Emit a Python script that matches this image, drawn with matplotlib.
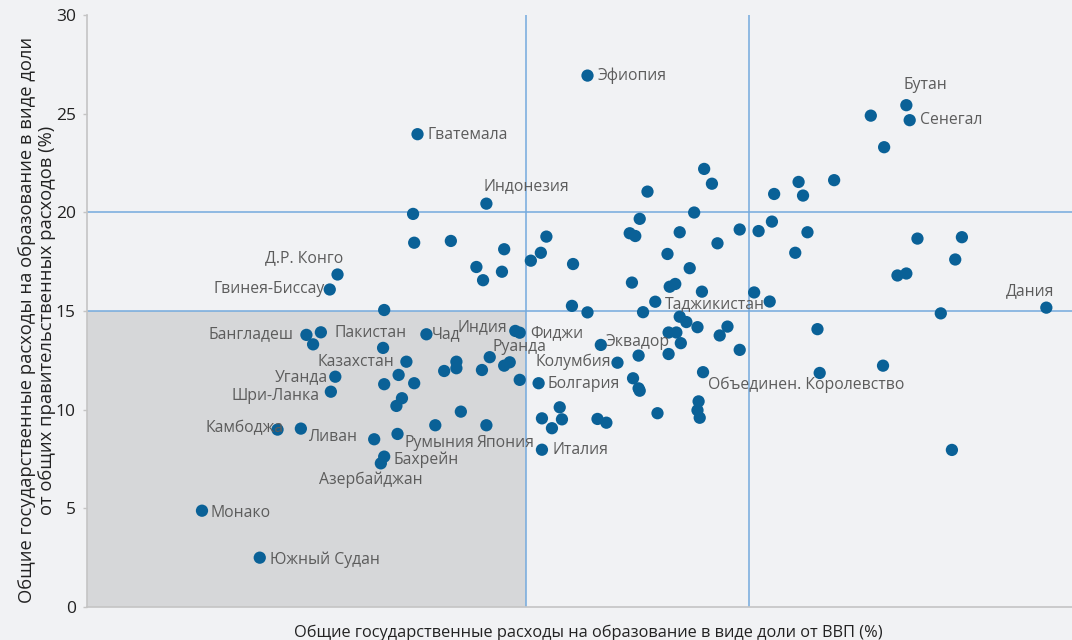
import matplotlib
matplotlib.use("Agg")
import matplotlib.pyplot as plt
from matplotlib.patches import Rectangle

#data: share of GDP (%) and share of government spending (%)
country = [
    'Эфиопия', 'Бутан', 'Сенегал', '', '', 'Гватемала', 'Индонезия', '', '', '',
    '', '', '', '', '', '', '', '', '', '',
    '', '', '', '', '', '', '', '', '', '',
    '', '', '', '', '', '', '', '', '', '',
    '', '', '', '', '', '', 'Д.Р. Конго', 'Гвинея-Биссау', '', '',
    '', 'Таджикистан', '', '', '', '', 'Дания', '', '', '',
    '', '', '', '', '', '', '', '', 'Эквадор', '',
    '', 'Колумбия', '', '', '', 'Объединен. Королевство', '', '', '', '',
    '', '', '', '', '', 'Бангладеш', 'Пакистан', '', 'Чад', 'Индия',
    'Фиджи', '', 'Казахстан', '', '', '', '', '', '', '',
    '', '', '', '', 'Руанда', '', 'Болгария', '', '', 'Япония',
    'Ливан', 'Румыния', 'Бахрейн', 'Азербайджан', 'Италия', '', '', '', '', 'Уганда',
    'Шри-Ланка', 'Камбоджа', '', 'Монако', 'Южный Судан',
]
gdp_share = [
    4.55, 7.42, 7.45, 7.10, 7.22, 3.02, 3.64, 5.60, 5.67, 5.09,
    6.45, 6.49, 6.77, 6.23, 5.51, 2.98, 5.02, 6.21, 4.93, 4.98,
    5.38, 5.92, 6.09, 6.53, 4.18, 2.99, 3.32, 3.80, 4.13, 4.04,
    4.42, 5.72, 5.27, 6.42, 7.52, 7.92, 7.86, 3.55, 3.78, 3.61,
    5.47, 4.95, 5.29, 5.34, 7.34, 7.42, 2.30, 2.23, 5.58, 6.05,
    6.19, 5.16, 4.41, 4.55, 5.05, 7.73, 8.68, 2.72, 5.38, 5.44,
    5.54, 5.28, 5.35, 5.81, 5.74, 5.39, 5.92, 6.62, 4.67, 5.01,
    5.28, 4.82, 4.96, 5.01, 5.02, 5.59, 5.55, 5.54, 5.56, 5.18,
    4.72, 4.64, 6.64, 7.21, 7.83, 2.02, 2.15, 2.08, 3.10, 3.90,
    3.94, 2.71, 2.92, 2.85, 2.72, 2.99, 2.88, 2.83, 3.26, 3.37,
    3.37, 3.60, 3.67, 3.80, 3.85, 3.94, 4.11, 3.41, 3.18, 3.64,
    2.63, 2.84, 2.72, 2.69, 4.14, 4.14, 4.30, 4.32, 4.23, 2.28,
    2.24, 1.76, 1.97, 1.08, 1.60,
]
budget_share = [
    26.93, 25.43, 24.67, 24.90, 23.30, 23.96, 20.44, 22.20, 21.45, 21.05,
    21.54, 20.85, 21.63, 20.93, 19.99, 19.92, 19.67, 19.53, 18.94, 18.80,
    18.99, 19.13, 19.05, 18.99, 18.77, 18.46, 18.55, 18.13, 17.95, 17.55,
    17.38, 18.43, 17.89, 17.95, 18.67, 18.74, 17.61, 17.23, 16.99, 16.56,
    17.17, 16.44, 16.23, 16.37, 16.80, 16.90, 16.85, 16.09, 15.98, 15.94,
    15.48, 15.47, 15.26, 14.93, 14.94, 14.88, 15.17, 15.05, 14.71, 14.44,
    14.18, 13.91, 13.91, 14.21, 13.76, 13.37, 13.03, 14.08, 13.28, 12.74,
    12.82, 12.38, 11.59, 11.08, 10.96, 11.90, 10.42, 9.97, 9.59, 9.82,
    9.34, 9.53, 11.86, 12.23, 7.96, 13.79, 13.92, 13.31, 13.82, 13.99,
    13.90, 13.13, 12.43, 11.76, 11.29, 11.34, 10.58, 10.19, 11.96, 12.43,
    12.10, 12.01, 12.66, 12.23, 12.40, 11.51, 11.34, 9.90, 9.21, 9.21,
    8.50, 8.77, 7.62, 7.28, 7.97, 9.56, 10.12, 9.51, 9.06, 11.67,
    10.91, 8.99, 9.04, 4.88, 2.50,
]

#reference lines
gdp_lines = [4, 6]
budget_lines = [15, 20]

#label offsets in pixels (dx, dy, ha)
label_pos = {
    'Эфиопия': (10, 0, 'left'),
    'Бутан': (-3, 20, 'left'),
    'Сенегал': (10, 0, 'left'),
    'Гватемала': (10, -1, 'left'),
    'Индонезия': (-3, 18, 'left'),
    'Д.Р. Конго': (6, 16, 'right'),
    'Гвинея-Биссау': (-5, 0, 'right'),
    'Дания': (8, 17, 'right'),
    'Таджикистан': (10, -2, 'left'),
    'Бангладеш': (-13, 1, 'right'),
    'Пакистан': (14, -1, 'left'),
    'Чад': (5, 0, 'left'),
    'Индия': (-8, 4, 'right'),
    'Фиджи': (11, 0, 'left'),
    'Руанда': (-17, 15, 'left'),
    'Казахстан': (-12, 0, 'right'),
    'Колумбия': (-6, 1, 'right'),
    'Эквадор': (5, 3, 'left'),
    'Уганда': (-7, 0, 'right'),
    'Шри-Ланка': (-11, -4, 'right'),
    'Болгария': (9, -1, 'left'),
    'Объединен. Королевство': (5, -13, 'left'),
    'Камбоджа': (6, 1, 'right'),
    'Ливан': (-16, 2, 'right'),
    'Румыния': (7, -9, 'left'),
    'Япония': (-10, -18, 'left'),
    'Бахрейн': (9, -3, 'left'),
    'Азербайджан': (-10, -16, 'center'),
    'Монако': (9, -2, 'left'),
    'Южный Судан': (10, -2, 'left'),
    'Италия': (11, 0, 'left'),
}

plt.rcParams['font.family'] = ['Open Sans', 'DejaVu Sans']

bg = '#f1f2f4'
dot = '#0a6197'
line_col = '#74aadd'

fig = plt.figure(figsize=(10.72, 6.4), dpi=100, facecolor=bg)
ax = fig.add_axes([87 / 1072, 33 / 640, 985 / 1072, 592 / 640])
ax.set_facecolor(bg)
ax.set_xlim(0.045, 8.911)
ax.set_ylim(0, 30)

#shaded low-low quadrant
ax.add_patch(Rectangle((0, 0), gdp_lines[0], budget_lines[0], facecolor='#d6d7d9',
                       edgecolor='none', zorder=0))
for v in gdp_lines:
    ax.axvline(v, color=line_col, lw=1.1, zorder=1)
for h in budget_lines:
    ax.axhline(h, color=line_col, lw=1.1, zorder=1)

ax.scatter(gdp_share, budget_share, s=78, color=dot, edgecolors='none', zorder=3)

for name, xv, yv in zip(country, gdp_share, budget_share):
    if name == '':
        continue
    dx, dy, ha = label_pos[name]
    ax.annotate(name, (xv, yv), xytext=(dx, dy), textcoords='offset pixels',
                ha=ha, va='center', fontsize=11.3, color='#5c5c5c', zorder=4)

#axes styling
for s in ['top', 'right']:
    ax.spines[s].set_visible(False)
ax.spines['left'].set_color('#c4c4c4')
ax.spines['bottom'].set_color('#c4c4c4')
ax.spines['left'].set_linewidth(1.2)
ax.spines['bottom'].set_linewidth(1.2)
ax.set_xticks([])
ax.set_yticks([0, 5, 10, 15, 20, 25, 30])
ax.tick_params(axis='y', length=3, width=1, color='#c4c4c4', pad=5,
               labelsize=12.5, labelcolor='#222222')

fig.text(37 / 1072, 1 - 320 / 640,
         'Общие государственные расходы на образование в виде доли\n'
         'от общих правительственных расходов (%)',
         rotation=90, ha='center', va='center', multialignment='center',
         fontsize=13.2, color='#222222', linespacing=1.12)
fig.text(588 / 1072, 1 - 633 / 640,
         'Общие государственные расходы на образование в виде доли от ВВП (%)',
         ha='center', va='center', fontsize=11.8, color='#222222')

fig.savefig('out.png', dpi=100, facecolor=bg)
